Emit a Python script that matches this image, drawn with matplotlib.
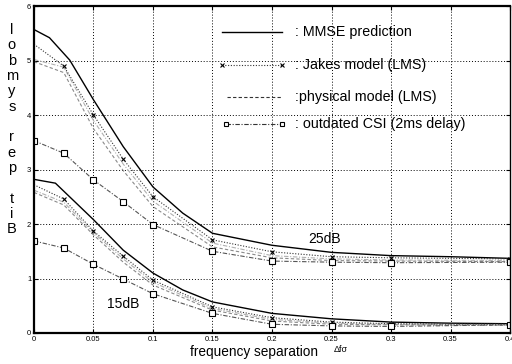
import matplotlib
matplotlib.use("Agg")
import matplotlib.pyplot as plt

plt.rcParams.update({"font.family": ["Liberation Sans", "DejaVu Sans"]})

# data (bit per symbol vs. frequency separation)
x_mmse = [0, 0.013, 0.03, 0.05, 0.075, 0.1, 0.125, 0.15, 0.2, 0.25, 0.3, 0.35, 0.4]
mmse_25 = [5.57, 5.42, 5.01, 4.28, 3.42, 2.68, 2.20, 1.83, 1.61, 1.48, 1.42, 1.40, 1.37]
x_mmse15 = [0, 0.018, 0.05, 0.075, 0.1, 0.125, 0.15, 0.2, 0.25, 0.3, 0.35, 0.4]
mmse_15 = [2.82, 2.75, 2.08, 1.52, 1.10, 0.79, 0.57, 0.36, 0.26, 0.20, 0.18, 0.17]

x_pts = [0, 0.025, 0.05, 0.075, 0.1, 0.15, 0.2, 0.25, 0.3, 0.4]
jakes_25 = [5.30, 4.90, 4.00, 3.19, 2.50, 1.71, 1.49, 1.40, 1.38, 1.36]
jakes_15 = [2.72, 2.46, 1.87, 1.41, 0.97, 0.48, 0.28, 0.20, 0.17, 0.16]
phys_25 = [4.98, 4.78, 3.75, 2.98, 2.32, 1.58, 1.38, 1.33, 1.32, 1.31]
phys_15 = [2.58, 2.35, 1.80, 1.30, 0.88, 0.42, 0.22, 0.16, 0.15, 0.14]
other_25 = [5.02, 4.88, 3.90, 3.10, 2.42, 1.65, 1.42, 1.36, 1.34, 1.33]
other_15 = [2.62, 2.40, 1.84, 1.36, 0.93, 0.45, 0.25, 0.18, 0.16, 0.15]
csi_25 = [3.53, 3.30, 2.81, 2.41, 1.99, 1.50, 1.32, 1.30, 1.29, 1.30]
csi_15 = [1.69, 1.56, 1.26, 0.99, 0.72, 0.36, 0.16, 0.13, 0.12, 0.15]

legend_labels = [": MMSE prediction", ": Jakes model (LMS)", ":physical model (LMS)",
                 ": outdated CSI (2ms delay)"]

fig = plt.figure(figsize=(5.12, 3.64), dpi=100)
ax = fig.add_axes([0.0664, 0.0852, 0.9297, 0.898])

for xs, ys in [(x_mmse, mmse_25), (x_mmse15, mmse_15)]:
    ax.plot(xs, ys, color="black", lw=1.0, ls="-")
for ys in [other_25, other_15]:
    ax.plot(x_pts, ys, color="#b0b0b0", lw=0.8, ls=(0, (4, 1.5, 1, 1.5)))
for ys in [phys_25, phys_15]:
    ax.plot(x_pts, ys, color="#8a8a8a", lw=0.8, ls=(0, (3, 2)))
for ys in [jakes_25, jakes_15]:
    ax.plot(x_pts, ys, color="#333333", lw=0.8, ls=(0, (1, 1.5)))
    ax.plot(x_pts[1:], ys[1:], ls="none", marker="x", ms=3.5, mec="black", mew=0.8)
for ys in [csi_25, csi_15]:
    ax.plot(x_pts, ys, color="#555555", lw=0.8, ls=(0, (4, 1.5, 1, 1.5)))
    ax.plot(x_pts, ys, ls="none", marker="s", ms=4.5, mfc="white", mec="black", mew=0.8)

# hand-drawn legend, as in the original
ly = [5.52, 4.92, 4.33, 3.83]
lx0, lx1, tx = 0.158, 0.208, 0.219
ax.plot([lx0, lx1], [ly[0], ly[0]], color="black", lw=1.0)
ax.plot([lx0, lx1], [ly[1], ly[1]], color="#333333", lw=0.8, ls=(0, (1, 1.5)),
        marker="x", ms=3, mec="black", mew=0.8)
ax.plot([lx0 + 0.004, lx1], [ly[2], ly[2]], color="#333333", lw=0.8, ls=(0, (3, 2)))
ax.plot([lx0 + 0.003, lx1], [ly[3], ly[3]], color="#333333", lw=0.8,
        ls=(0, (4, 1.5, 1, 1.5)), marker="s", ms=3.5, mfc="white", mec="black", mew=0.8)
for yy, lab in zip(ly, legend_labels):
    ax.text(tx, yy, lab, fontsize=10.3, va="center", ha="left")

ax.text(0.244, 1.72, "25dB", fontsize=10, ha="center", va="center")
ax.text(0.075, 0.53, "15dB", fontsize=10, ha="center", va="center")

ax.set_xlim(0, 0.4)
ax.set_ylim(0, 6)
ax.set_xticks([0, 0.05, 0.1, 0.15, 0.2, 0.25, 0.3, 0.35, 0.4])
ax.set_xticklabels(["0", "0.05", "0.1", "0.15", "0.2", "0.25", "0.3", "0.35", "0.4"])
ax.set_yticks(range(7))
ax.tick_params(direction="in", length=3, width=0.8, labelsize=5.5, pad=2,
               right=True, top=True)
ax.grid(True, color="black", ls=(0, (1, 2)), lw=0.7)
for side in ["left", "bottom", "top"]:
    ax.spines[side].set_linewidth(1.6)
ax.spines["right"].set_linewidth(1.0)

fig.text(0.372, 0.033, "frequency separation", fontsize=9.8, ha="left", va="center")
fig.text(0.651, 0.040, "\u0394f\u03c3", fontsize=6.5, ha="left", va="center")
fig.text(0.023, 0.644, "l\no\nb\nm\ny\ns\n\nr\ne\np\n\nt\ni\nB", fontsize=10.5,
         ha="center", va="center", linespacing=1.12)

fig.savefig("out.png", dpi=100)
